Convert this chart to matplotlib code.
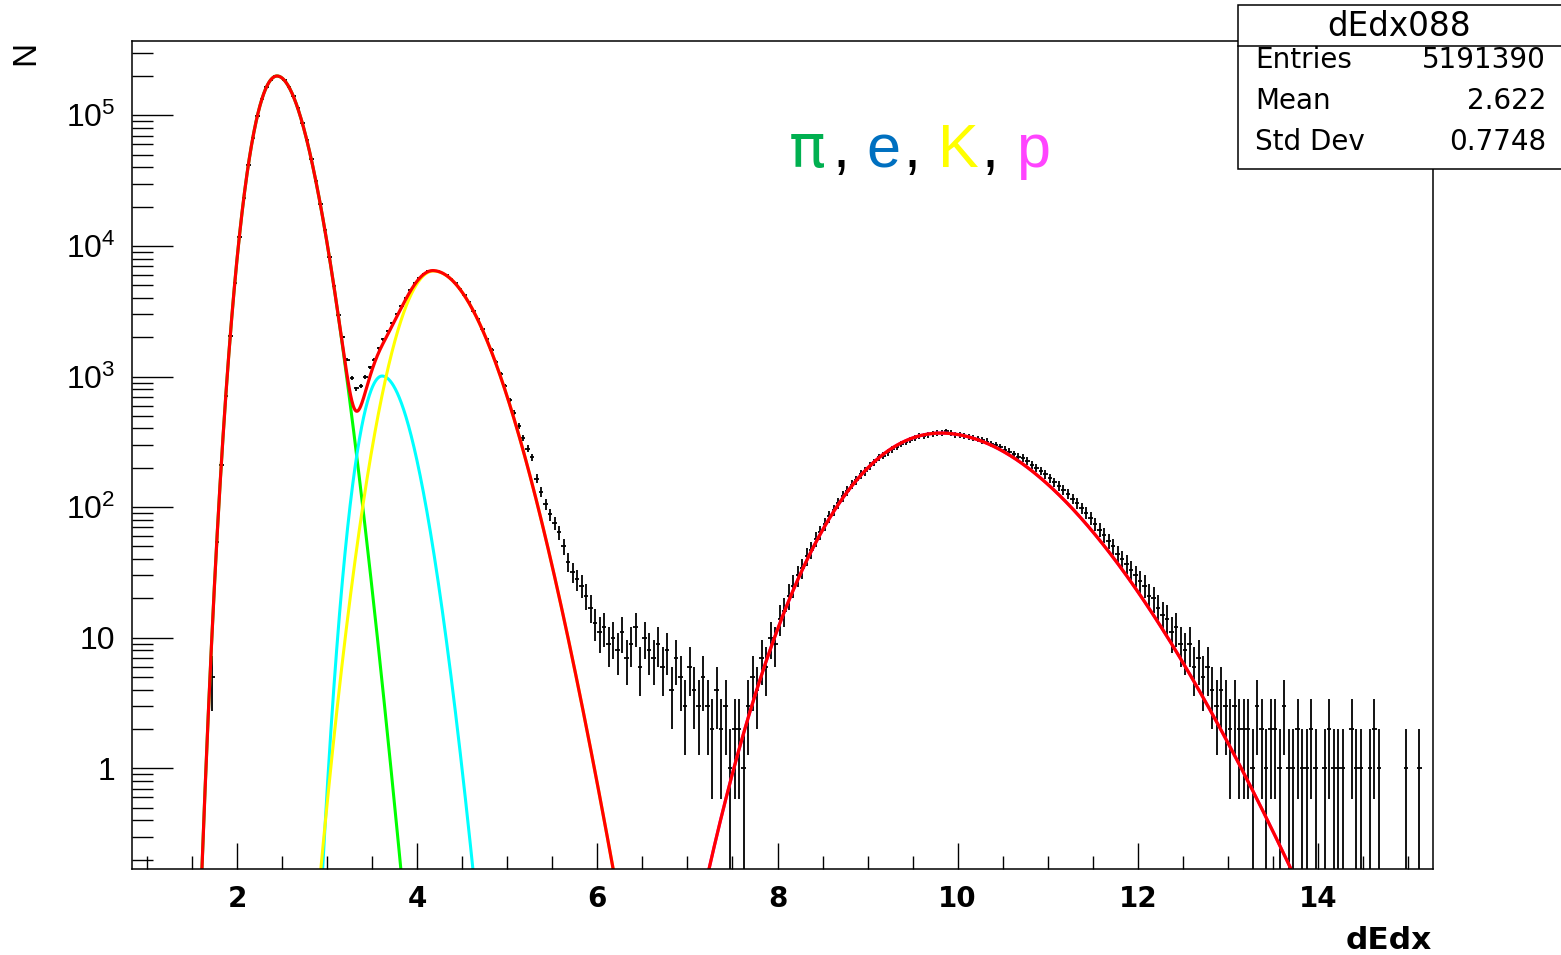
import numpy as np
import matplotlib
matplotlib.use('Agg')
import matplotlib.pyplot as plt
from matplotlib.patches import Rectangle
from matplotlib.lines import Line2D
from matplotlib.ticker import MultipleLocator, LogLocator, NullFormatter

plt.rcParams['font.family'] = ['Liberation Sans', 'DejaVu Sans']
plt.rcParams['mathtext.fontset'] = 'custom'
plt.rcParams['mathtext.rm'] = 'Liberation Sans'

# --- histogram dEdx088 (counts per bin) ---
BIN_LO = 1.70
BIN_WIDTH = 0.05
counts = [
    5, 54, 211, 708, 2051, 5212, 11670, 23230, 41500, 66990,
    98500, 132300, 163600, 187300, 199000, 197800, 185600, 165200, 139800, 113000,
    87140, 64590, 45910, 31420, 20790, 13310, 8232, 4953, 2950, 2010,
    1340, 970, 810, 840, 990, 1180, 1350, 1650, 1930, 2230,
    2580, 3000, 3480, 4020, 4600, 5180, 5700, 6120, 6390, 6460,
    6410, 6230, 5950, 5590, 5160, 4690, 4190, 3690, 3200, 2740,
    2320, 1940, 1600, 1300, 1050, 850, 665, 530, 420, 340,
    280, 240, 165, 130, 105, 88, 76, 64, 50, 38,
    32, 28, 25, 21, 17, 13, 11, 12, 9, 10,
    8, 11, 7, 9, 12, 6, 10, 8, 7, 9,
    6, 8, 4, 7, 5, 3, 6, 4, 3, 5,
    3, 2, 4, 2, 3, 1, 2, 2, 1, 3,
    5, 4, 7, 6, 10, 9, 14, 16, 21, 25,
    30, 34, 42, 47, 57, 64, 74, 85, 95, 108,
    121, 134, 149, 160, 178, 188, 206, 220, 240, 248,
    262, 278, 290, 304, 316, 328, 337, 349, 352, 360,
    365, 372, 370, 380, 368, 360, 356, 352, 345, 340,
    334, 325, 318, 306, 298, 288, 276, 266, 255, 243,
    238, 226, 212, 200, 190, 178, 166, 156, 146, 136,
    127, 116, 108, 98, 90, 82, 74, 67, 61, 55,
    50, 44, 40, 37, 33, 30, 27, 25, 21, 20,
    17, 15, 14, 11, 12, 9, 8, 9, 6, 7,
    5, 6, 4, 3, 4, 3, 2, 3, 2, 2,
    2, 1, 3, 2, 1, 2, 2, 1, 3, 1,
    1, 2, 1, 1, 2, 1, 0, 1, 2, 1,
    1, 1, 0, 2, 1, 1, 0, 1, 2, 1,
    0, 0, 0, 0, 0, 1, 0, 0, 1, 0,
]

# --- fit components: peak, height, left/right widths ---
# widths are in ln(dEdx) for 'log' sides and in dEdx for 'lin' sides
species = ['pi', 'e', 'K', 'p']
peak_pos = [2.444, 3.61, 4.18, 9.81]
peak_height = [2.0e5, 1009.0, 6427.0, 369.0]
sigma_left = [0.0789, 0.0484, 0.2722, 0.0775]
sigma_right = [0.0844, 0.0591, 0.0850, 0.0852]
left_space = ['log', 'log', 'lin', 'log']
curve_colors = ['#00ff00', '#00ffff', '#ffff00', '#ff00ff']

stats_title = 'dEdx088'
stats_names = ['Entries', 'Mean', 'Std Dev']
stats_values = ['5191390', '2.622', '0.7748']

label_parts = ['π', ',', 'e', ',', 'K', ',', 'p']
label_colors = ['#00b050', 'black', '#0070c0', 'black', '#ffff00', 'black', '#ff44ff']

W, H = 1561, 955


def component(x, pos, height, s_l, s_r, space_l):
    u_log = np.log(x) - np.log(pos)
    u_left = (x - pos) / s_l if space_l == 'lin' else u_log / s_l
    u = np.where(x < pos, u_left, u_log / s_r)
    return height * np.exp(-0.5 * u ** 2)


def px(x, y):
    # pixel position -> figure fraction
    return x / W, 1 - y / H


fig = plt.figure(figsize=(W / 100, H / 100), dpi=100)
ax = fig.add_axes([132 / W, 1 - 869.3 / H, (1433 - 132) / W, (869.3 - 41) / H])

# --- data points with error bars ---
n = np.array(counts, dtype=float)
centers = BIN_LO + BIN_WIDTH * (np.arange(len(n)) + 0.5)
m = n > 0
err = np.sqrt(n[m])
ax.vlines(centers[m], np.maximum(n[m] - err, 1e-3), n[m] + err, color='black', lw=1.3)
ax.hlines(n[m], centers[m] - BIN_WIDTH / 2, centers[m] + BIN_WIDTH / 2, color='black', lw=1.3)

# --- fit curves ---
xf = np.linspace(1.0, 15.25, 4000)
total = np.zeros_like(xf)
for i in range(len(species)):
    y = component(xf, peak_pos[i], peak_height[i], sigma_left[i], sigma_right[i], left_space[i])
    ax.plot(xf, y, color=curve_colors[i], lw=2.2)
    total += y
ax.plot(xf, total, color='#ff0000', lw=2.3)

ax.set_yscale('log')
ax.set_xlim(0.834, 15.277)
ax.set_ylim(10 ** -0.773, 10 ** 5.569)

ax.set_xticks(np.arange(2, 15, 2))
ax.set_xticklabels([str(v) for v in range(2, 15, 2)], fontweight='bold', family='DejaVu Sans')
ax.xaxis.set_minor_locator(MultipleLocator(0.5))
ax.set_yticks([1, 10, 1e2, 1e3, 1e4, 1e5])
ax.set_yticklabels(['1', '10', r'$\mathregular{10^{2}}$', r'$\mathregular{10^{3}}$',
                    r'$\mathregular{10^{4}}$', r'$\mathregular{10^{5}}$'])
ax.yaxis.set_minor_locator(LogLocator(base=10, subs=np.arange(2, 10)))
ax.yaxis.set_minor_formatter(NullFormatter())

ax.tick_params(axis='x', which='major', direction='in', length=18.7, width=1, labelsize=20, pad=11)
ax.tick_params(axis='x', which='minor', direction='in', length=9.4, width=1)
ax.tick_params(axis='y', which='major', direction='in', length=29.5, width=1, labelsize=23, pad=12)
ax.tick_params(axis='y', which='minor', direction='in', length=15, width=1)
for sp in ax.spines.values():
    sp.set_linewidth(1.1)

# --- axis titles ---
fig.text(*px(1432, 940), 'dEdx', ha='right', va='center', fontsize=22.5, fontweight='bold',
         family='DejaVu Sans')
fig.text(*px(26, 41), 'N', ha='center', va='top', rotation=90, fontsize=24)

# --- colored particle label ---
label_x = [789, 833, 866, 904, 938, 982, 1016]
label_font = ['DejaVu Sans', 'Liberation Sans', 'Liberation Sans', 'Liberation Sans',
              'Liberation Sans', 'Liberation Sans', 'Liberation Sans']
for part, col, lx, fam in zip(label_parts, label_colors, label_x, label_font):
    fig.text(*px(lx, 167), part, color=col, fontsize=44, ha='left', va='baseline', family=fam)

# --- stats box ---
fig.add_artist(Rectangle(px(1238, 169), (W + 5 - 1238) / W, 164 / H, transform=fig.transFigure,
                         facecolor='white', edgecolor='black', lw=1.1, zorder=5))
fig.add_artist(Line2D([1238 / W, 1.0], [1 - 46 / H] * 2, transform=fig.transFigure,
                      color='black', lw=1.1, zorder=6))
fig.text(*px(1399, 26), stats_title, ha='center', va='center', fontsize=23.5,
         family='DejaVu Sans', zorder=7)
for j, (name, val) in enumerate(zip(stats_names, stats_values)):
    yb = 68 + 41 * j
    fig.text(*px(1255, yb), name, ha='left', va='baseline', fontsize=20,
             family='DejaVu Sans', zorder=7)
    fig.text(*px(1546, yb), val, ha='right', va='baseline', fontsize=20,
             family='DejaVu Sans', zorder=7)

fig.savefig('out.png', dpi=100)
